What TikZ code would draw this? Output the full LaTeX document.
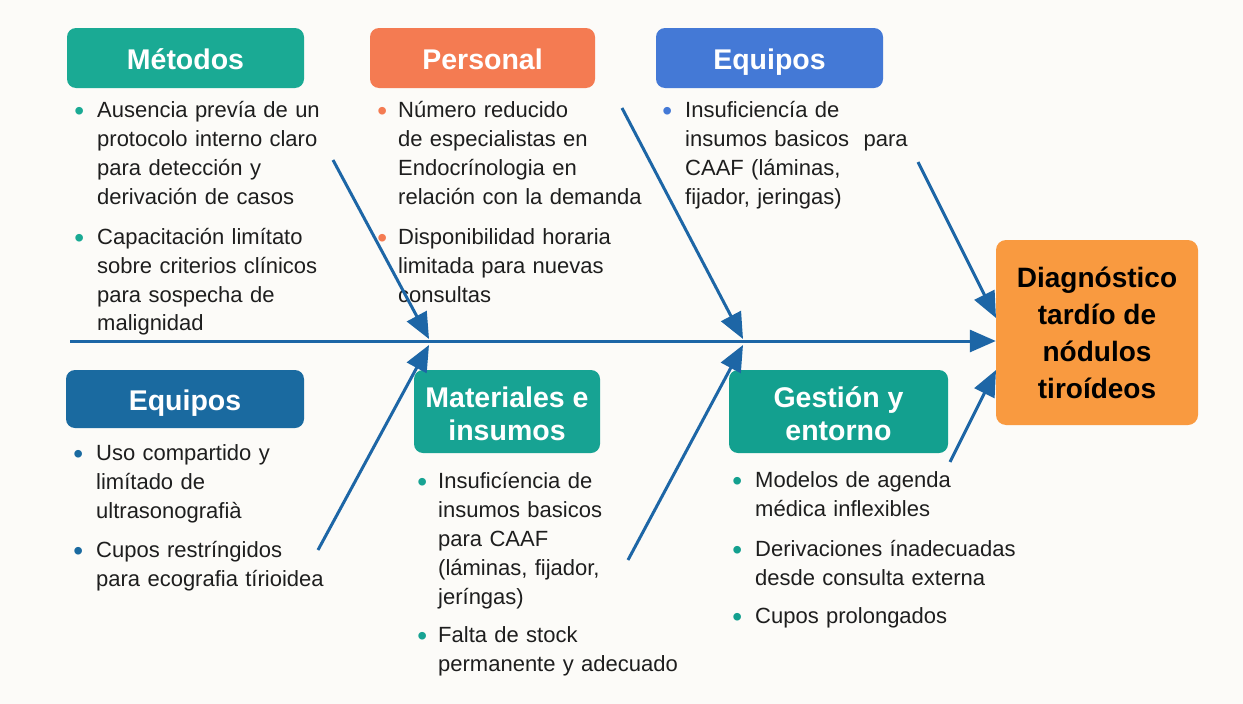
\documentclass[tikz,border=0pt]{standalone}
\usepackage{fontspec}
\setmainfont{Liberation Sans}
\usetikzlibrary{arrows.meta}
\definecolor{bg}{HTML}{FCFBF8}
\definecolor{cMet}{HTML}{1AAA94}
\definecolor{cPer}{HTML}{F47B52}
\definecolor{cEqT}{HTML}{4479D6}
\definecolor{cEqB}{HTML}{1A6AA0}
\definecolor{cMat}{HTML}{17A393}
\definecolor{cGes}{HTML}{13A08F}
\definecolor{cDia}{HTML}{F99A40}
\definecolor{arrc}{HTML}{1D66A6}
\definecolor{txt}{HTML}{1E1E1E}
\newcommand{\bu}[2]{\leavevmode\llap{\textcolor{#1}{\raisebox{-3pt}{\fontsize{28}{28}\selectfont\textbullet}}\hspace{#2}}}
\begin{document}
\begin{tikzpicture}[x=1pt,y=-1pt,
  hdr/.style={rounded corners=9pt, inner sep=0pt, text=white, align=center,
    font=\fontsize{28.5}{33}\selectfont\bfseries},
  hdrone/.style={hdr, text height=22pt, text depth=0pt},
  hdrtwo/.style={hdr, text height=24pt, text depth=4pt},
  lst/.style={anchor=base west, inner sep=0pt, text width=330pt, align=left,
    text=txt, font=\fontsize{22}{29}\selectfont},
  br/.style={draw=arrc, line width=3pt, -{Triangle[length=26pt,width=22pt]}}]
\fill[bg] (0,0) rectangle (1243,704);
\useasboundingbox (0,0) rectangle (1243,704);

% headers
\node[hdrone, fill=cMet, minimum width=237pt, minimum height=60pt] (hmet) at (185.5,58) {Métodos};
\node[hdrone, fill=cPer, minimum width=225pt, minimum height=60pt] (hper) at (482.5,58) {Personal};
\node[hdrone, fill=cEqT, minimum width=227pt, minimum height=60pt] (heqt) at (769.5,58) {Equipos};
\node[hdrone, fill=cEqB, minimum width=238pt, minimum height=58pt] (heqb) at (185,399) {Equipos};
\node[hdr, fill=cMat, minimum width=186pt, minimum height=83pt] (hmat) at (507,411.5) {\rule{0pt}{26pt}Materiales e\\insumos};
\node[hdr, fill=cGes, minimum width=219pt, minimum height=83pt] (hges) at (838.5,411.5) {\rule{0pt}{26pt}Gestión y\\entorno};
\node[rounded corners=10pt, fill=cDia, inner sep=0pt, minimum width=202pt, minimum height=185pt,
  align=center, text=black, font=\fontsize{28}{37}\selectfont\bfseries] (diag) at (1097,332.5)
  {Diagnóstico\\tardío de\\nódulos\\tiroídeos};

% lists
\node[lst] (lmet) at (97,117) {\bu{cMet}{13pt}Ausencia prevía de un\\protocolo interno claro\\para detección y\\derivación de casos\\[11pt]
\bu{cMet}{13pt}Capacitación limítato\\sobre criterios clínicos\\para sospecha de\\malignidad};
\node[lst] (lper) at (398,117) {\bu{cPer}{11pt}Número reducido\\de especialistas en\\Endocrínologia en\\relación con la demanda\\[11pt]
\bu{cPer}{11pt}Disponibilidad horaria\\limitada para nuevas\\consultas};
\node[lst] (leqt) at (685,117) {\bu{cEqT}{13pt}Insuficiencía de\\insumos basicos\ \ para\\CAAF (láminas,\\fijador, jeringas)};
\node[lst] (leqb) at (96,460) {\bu{cEqB}{13pt}Uso compartido y\\limítado de\\ultrasonografià\\[10pt]
\bu{cEqB}{13pt}Cupos restríngidos\\para ecografia tírioidea};
\node[lst] (lmat) at (438,488) {\bu{cMat}{11pt}Insuficíencia de\\insumos basicos\\para CAAF\\(láminas, fijador,\\jeríngas)\\[9pt]
\bu{cMat}{11pt}Falta de stock\\permanente y adecuado};
\node[lst] (lges) at (755,487) {\bu{cGes}{13pt}Modelos de agenda\\médica inflexibles\\[11pt]
\bu{cGes}{13pt}Derivaciones ínadecuadas\\desde consulta externa\\[9pt]
\bu{cGes}{13pt}Cupos prolongados};

% spine and branches
\coordinate (s0) at (70,341);
\draw[br] (s0) -- (s0 -| diag.west);
\coordinate (a1) at (333,160);  \coordinate (j1t) at (429,339);
\coordinate (a2) at (622,108);  \coordinate (j2t) at (743,339);
\coordinate (a3) at (918,162);  \coordinate (d3) at (996,318);
\coordinate (b1) at (318,550);  \coordinate (j1b) at (429,345);
\coordinate (b2) at (628,560);  \coordinate (j2b) at (743,345);
\coordinate (b3) at (950,462);  \coordinate (d6) at (996,370);
\draw[br] (a1) -- (j1t);
\draw[br] (a2) -- (j2t);
\draw[br] (a3) -- (d3);
\draw[br] (b1) -- (j1b);
\draw[br] (b2) -- (j2b);
\draw[br] (b3) -- (d6);
\end{tikzpicture}
\end{document}
